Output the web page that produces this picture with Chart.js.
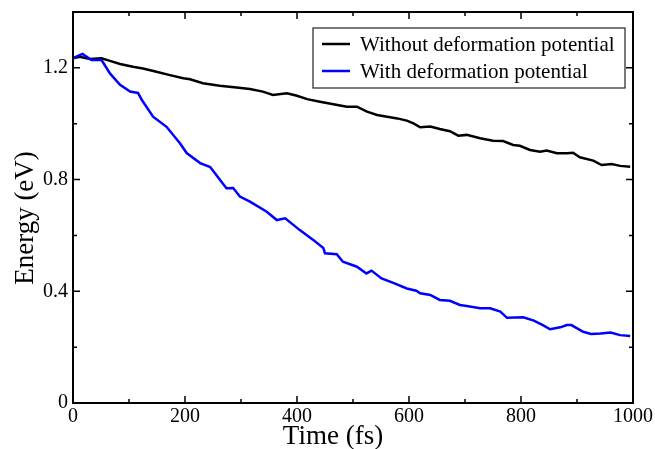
<!DOCTYPE html>
<html>
<head>
<meta charset="utf-8">
<script src="https://cdn.jsdelivr.net/npm/chart.js@4.4.1/dist/chart.umd.min.js"></script>
<style>
  html, body { margin: 0; padding: 0; background: #fff; }
  canvas { display: block; }
</style>
</head>
<body>
<canvas id="chart" width="655" height="449"></canvas>
<script>
// data
const seriesNames = ['Without deformation potential', 'With deformation potential'];

const timeNoDef = [0, 12, 30, 51, 66, 84, 107, 125, 149, 173, 197, 209, 232, 262, 292, 316, 339, 357, 382, 400,
  418, 441, 465, 489, 507, 525, 543, 561, 579, 596, 608, 620, 638, 655, 673, 688, 703, 727, 750, 768,
  786, 798, 816, 834, 846, 864, 882, 893, 905, 929, 944, 962, 977, 995];
const energyNoDef = [1.234, 1.24, 1.232, 1.234, 1.225, 1.214, 1.204, 1.198, 1.186, 1.174, 1.163, 1.159, 1.145, 1.136, 1.13, 1.124, 1.115, 1.103, 1.109, 1.1,
  1.088, 1.079, 1.07, 1.061, 1.061, 1.043, 1.031, 1.025, 1.019, 1.011, 1.001, 0.987, 0.99, 0.981, 0.973, 0.957, 0.96, 0.948, 0.939, 0.938,
  0.924, 0.921, 0.906, 0.9, 0.904, 0.894, 0.894, 0.896, 0.88, 0.868, 0.852, 0.856, 0.849, 0.846];

const timeDef = [0, 17, 33, 51, 66, 84, 102, 116, 123, 143, 167, 191, 203, 227, 245, 262, 274, 286, 298, 316,
  346, 364, 379, 405, 429, 447, 450, 471, 482, 507, 524, 533, 551, 572, 596, 613, 620, 638, 655, 673,
  691, 703, 727, 745, 763, 775, 804, 823, 839, 852, 870, 882, 890, 911, 925, 942, 960, 977, 995];
const energyDef = [1.235, 1.25, 1.228, 1.228, 1.18, 1.139, 1.115, 1.11, 1.085, 1.025, 0.989, 0.93, 0.895, 0.859, 0.845, 0.8, 0.769, 0.77, 0.739, 0.721,
  0.685, 0.655, 0.661, 0.619, 0.584, 0.555, 0.536, 0.533, 0.506, 0.488, 0.464, 0.474, 0.446, 0.43, 0.41, 0.402, 0.393, 0.387, 0.369, 0.366,
  0.351, 0.347, 0.339, 0.339, 0.327, 0.305, 0.307, 0.295, 0.279, 0.264, 0.271, 0.279, 0.279, 0.255, 0.247, 0.249, 0.252, 0.243, 0.24];

const xTicks = [0, 200, 400, 600, 800, 1000];
const yTicks = [0, 0.4, 0.8, 1.2];
const xTitle = 'Time (fs)';
const yTitle = 'Energy (eV)';

const toPoints = (xs, ys) => xs.map((x, i) => ({ x: x, y: ys[i] }));

const FONT = "'Liberation Serif', 'Times New Roman', serif";
Chart.defaults.font.family = FONT;
Chart.defaults.color = '#000';

const noPad = (s) => { s.paddingTop = 0; s.paddingBottom = 0; s.paddingLeft = 0; s.paddingRight = 0; };

// frame, inward ticks on all four sides, axis titles, boxed legend
const framePlugin = {
  id: 'frame',
  afterDraw(chart) {
    const ctx = chart.ctx;
    const a = chart.chartArea;
    const xs = chart.scales.x, ys = chart.scales.y;
    ctx.save();
    ctx.strokeStyle = '#000';
    ctx.lineWidth = 2;
    ctx.strokeRect(a.left, a.top, a.right - a.left, a.bottom - a.top);

    ctx.lineWidth = 1.5;
    ctx.beginPath();
    for (let v = 0; v <= 1000; v += 100) {
      const px = xs.getPixelForValue(v);
      const len = (v % 200 === 0) ? 7 : 4;
      ctx.moveTo(px, a.bottom); ctx.lineTo(px, a.bottom - len);
      ctx.moveTo(px, a.top); ctx.lineTo(px, a.top + len);
    }
    for (let i = 0; i <= 7; i++) {
      const v = i * 0.2;
      const py = ys.getPixelForValue(v);
      const len = (i % 2 === 0) ? 7 : 4;
      ctx.moveTo(a.left, py); ctx.lineTo(a.left + len, py);
      ctx.moveTo(a.right, py); ctx.lineTo(a.right - len, py);
    }
    ctx.stroke();

    // axis titles
    ctx.fillStyle = '#000';
    ctx.font = '27px ' + FONT;
    ctx.textAlign = 'center';
    ctx.textBaseline = 'alphabetic';
    ctx.fillText(xTitle, 333, 444);
    ctx.save();
    ctx.translate(33, 218);
    ctx.rotate(-Math.PI / 2);
    ctx.fillText(yTitle, 0, 0);
    ctx.restore();

    // legend
    const bx = 313, by = 28, bw = 312, bh = 60;
    ctx.lineWidth = 1.2;
    ctx.strokeStyle = '#222';
    ctx.fillStyle = '#fff';
    ctx.fillRect(bx, by, bw, bh);
    ctx.strokeRect(bx, by, bw, bh);
    ctx.font = '21px ' + FONT;
    ctx.textBaseline = 'middle';
    ctx.textAlign = 'left';
    chart.data.datasets.forEach((ds, i) => {
      const ly = by + 16 + i * 27;
      ctx.strokeStyle = ds.borderColor;
      ctx.lineWidth = 2.5;
      ctx.beginPath();
      ctx.moveTo(bx + 9, ly); ctx.lineTo(bx + 37, ly);
      ctx.stroke();
      ctx.fillStyle = '#000';
      ctx.fillText(ds.label, bx + 47, ly + 1);
    });
    ctx.restore();
  }
};

new Chart(document.getElementById('chart'), {
  type: 'line',
  data: {
    datasets: [
      {
        label: seriesNames[0],
        data: toPoints(timeNoDef, energyNoDef),
        borderColor: '#000000',
        borderWidth: 2.5,
        pointRadius: 0,
        tension: 0,
        order: 2
      },
      {
        label: seriesNames[1],
        data: toPoints(timeDef, energyDef),
        borderColor: '#0000ff',
        borderWidth: 2.5,
        pointRadius: 0,
        tension: 0,
        order: 1
      }
    ]
  },
  options: {
    responsive: false,
    animation: false,
    devicePixelRatio: 1,
    layout: { padding: { top: 12, right: 22, left: 0, bottom: 0 } },
    plugins: {
      legend: { display: false },
      tooltip: { enabled: false }
    },
    scales: {
      x: {
        type: 'linear',
        min: 0,
        max: 1000,
        afterBuildTicks: (s) => { s.ticks = xTicks.map(v => ({ value: v })); },
        afterFit: (s) => { s.height = 46; noPad(s); },
        grid: { display: false, drawTicks: false },
        border: { display: false },
        ticks: { font: { size: 20 }, padding: 2, maxRotation: 0, callback: (v) => String(v) }
      },
      y: {
        type: 'linear',
        min: 0,
        max: 1.4,
        afterBuildTicks: (s) => { s.ticks = yTicks.map(v => ({ value: v })); },
        afterFit: (s) => { s.width = 73; noPad(s); },
        grid: { display: false, drawTicks: false },
        border: { display: false },
        ticks: {
          font: { size: 20 },
          padding: 5,
          callback: (v) => v === 0 ? '0' : v.toFixed(1)
        }
      }
    }
  },
  plugins: [framePlugin]
});
</script>
</body>
</html>
